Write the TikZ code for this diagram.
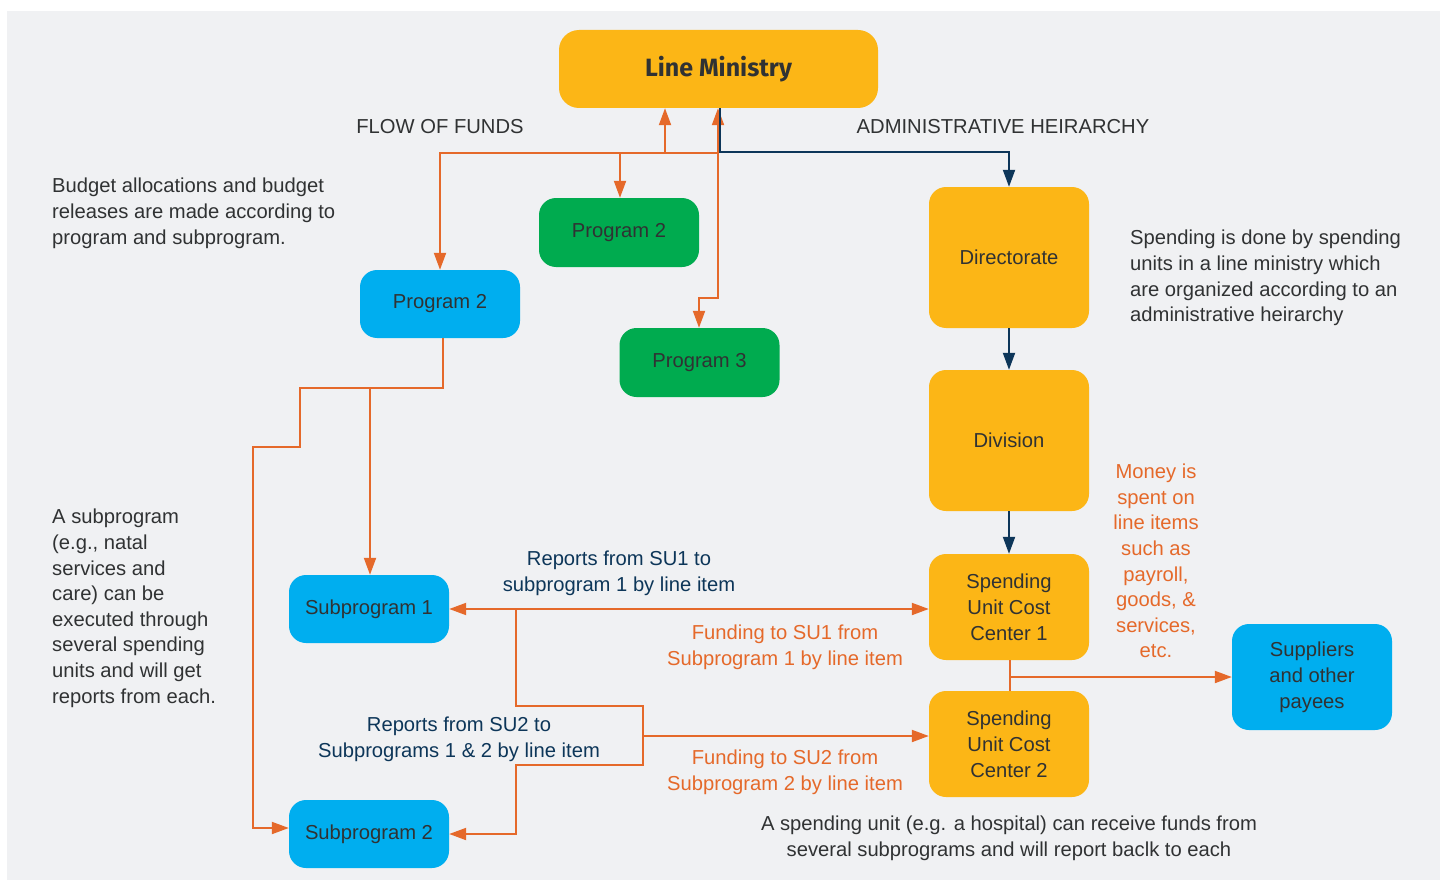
\documentclass[tikz,border=0pt]{standalone}
\usepackage{fontspec}
\setmainfont{Liberation Sans}
\newfontfamily\lmfont{Fira Sans}
\usetikzlibrary{arrows.meta}
\definecolor{bgc}{HTML}{F0F1F3}
\definecolor{ylw}{HTML}{FCB616}
\definecolor{grn}{HTML}{00AB4F}
\definecolor{blu}{HTML}{00AEEF}
\definecolor{org}{HTML}{E5692A}
\definecolor{nvy}{HTML}{0D3659}
\definecolor{txt}{HTML}{303233}
\tikzset{
  box/.style={rounded corners=17pt, text=txt, align=center, inner sep=0pt,
    minimum width=160pt, font=\fontsize{20.2}{26}\selectfont},
  ybox/.style={box, fill=ylw},
  gbox/.style={box, fill=grn, minimum height=69pt},
  bbox/.style={box, fill=blu},
  oline/.style={draw=org, line width=2pt},
  oarrow/.style={oline, -{Triangle[length=17pt,width=12pt]}},
  obi/.style={oline, {Triangle[length=17pt,width=12pt]}-{Triangle[length=17pt,width=12pt]}},
  narrow/.style={draw=nvy, line width=2pt, -{Triangle[length=17pt,width=12pt]}},
  note/.style={text=txt, align=left, inner sep=0pt, font=\fontsize{20.2}{25.6}\selectfont},
  cnote/.style={note, align=center},
}
\begin{document}
\begin{tikzpicture}[x=1pt,y=-1pt]
\useasboundingbox (0,0) rectangle (1440,880);
\fill[bgc] (7,11) rectangle (1440,880);

% nodes
\node[ybox, minimum width=319pt, minimum height=78pt, rounded corners=20pt, font=\lmfont\bfseries\fontsize{25}{30}\selectfont] (LM) at (718.5,69) {Line Ministry};
\node[gbox] (PG) at (619,232.5) {Program 2};
\node[bbox, minimum height=68pt] (PB) at (440,304) {Program 2};
\node[gbox] (P3) at (699.5,362.5) {Program 3};
\node[ybox, minimum height=141pt] (DIR) at (1009,257.5) {Directorate};
\node[ybox, minimum height=141pt] (DIV) at (1009,440.5) {Division};
\node[ybox, minimum height=106pt] (SU1) at (1009,607) {Spending\\Unit Cost\\Center 1};
\node[ybox, minimum height=106pt] (SU2) at (1009,744) {Spending\\Unit Cost\\Center 2};
\node[bbox, minimum height=68pt] (S1) at (369,609) {Subprogram 1};
\node[bbox, minimum height=68pt] (S2) at (369,834) {Subprogram 2};
\node[bbox, minimum height=106pt] (SUP) at (1312,677) {Suppliers\\and other\\payees};

% texts
\node[note] (t1) at (440,127) {FLOW OF FUNDS};
\node[note] (t2) at (1003,127) {ADMINISTRATIVE HEIRARCHY};
\node[note, anchor=north west] (t3) at (52,178) {Budget allocations and budget\\releases are made according to\\program and subprogram.};
\node[note, anchor=north west] (t4) at (1130,230) {Spending is done by spending\\units in a line ministry which\\are organized according to an\\administrative heirarchy};
\node[note, anchor=north west] (t5) at (52,509) {A subprogram\\(e.g., natal\\services and\\care) can be\\executed through\\several spending\\units and will get\\reports from each.};
\node[cnote, text=org] (t6) at (1156,561) {Money is\\spent on\\line items\\such as\\payroll,\\goods, \&\\services,\\etc.};
\node[cnote, text=nvy] (t7) at (619,573) {Reports from SU1 to\\subprogram 1 by line item};
\node[cnote, text=org] (t8) at (785,647) {Funding to SU1 from\\Subprogram 1 by line item};
\node[cnote, text=nvy] (t9) at (459,739) {Reports from SU2 to\\Subprograms 1 \& 2 by line item};
\node[cnote, text=org] (t10) at (785,772) {Funding to SU2 from\\Subprogram 2 by line item};
\node[cnote] (t11) at (1009,838) {A spending unit (e.g. a hospital) can receive funds from\\several subprograms and will report baclk to each};

% junction coordinates
\coordinate (ja) at (718,153);
\coordinate (jb) at (665,153);
\coordinate (jc) at (620,153);
\coordinate (jd) at (443,388);
\coordinate (je) at (370,388);
\coordinate (jf) at (516,609);
\coordinate (jg) at (643,736);
\coordinate (jh) at (1010,677);

% orange flow of funds
\draw[oarrow] (jb) -- (jb |- LM.south);
\draw[obi] (LM.south -| ja) -- (718,298) -- (699,298) -- (P3.north -| 699,0);
\draw[oarrow] (ja) -- (440,153) -- (PB.north -| 440,0);
\draw[oarrow] (jc) -- (PG.north -| jc);
\draw[oarrow] (PB.south -| jd) -- (jd) -- (300,388) -- (300,447) -- (253,447) -- (253,828) -- (S2.west |- 0,828);
\draw[oarrow] (je) -- (S1.north -| je);
\draw[obi] (S1.east) -- (S1.east -| SU1.west);
\draw[oarrow] (jf) -- (516,706) -- (643,706) -- (643,765) -- (516,765) -- (516,834) -- (S2.east);
\draw[oarrow] (jg) -- (jg -| SU2.west);
\draw[oline] (SU1.south -| jh) -- (SU2.north -| jh);
\draw[oarrow] (jh) -- (jh -| SUP.west);

% navy hierarchy
\draw[narrow] (LM.south -| 720,0) -- (720,152) -- (1009,152) -- (DIR.north);
\draw[narrow] (DIR.south) -- (DIV.north);
\draw[narrow] (DIV.south) -- (SU1.north);
\end{tikzpicture}
\end{document}
